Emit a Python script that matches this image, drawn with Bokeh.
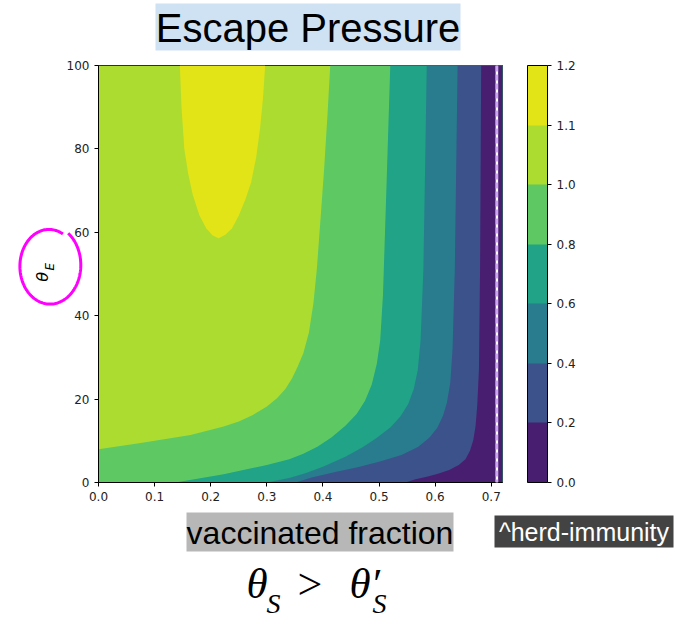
import numpy as np
from bokeh.plotting import figure
from bokeh.layouts import column, row
from bokeh.models import (ColorBar, LinearColorMapper, FixedTicker, PrintfTickFormatter,
                          Label, Span, Range1d)
from bokeh.embed import file_html
from bokeh.resources import INLINE

# ---------------- data ----------------
LEVEL_LABELS = ["0.0", "0.2", "0.4", "0.6", "0.8", "1.0", "1.1", "1.2"]
BAND_COLORS = ["#481f70", "#3b528b", "#287c8e", "#20a386", "#5ec962", "#addc30", "#e3e418"]
X_MAX = 0.72
Y_MAX = 100
HERD = 0.71
X_TICKS = [0.0, 0.1, 0.2, 0.3, 0.4, 0.5, 0.6, 0.7]
Y_TICKS = [0, 20, 40, 60, 80, 100]

# contour lines (vaccinated fraction, theta_E)
C11_X = [0.145, 0.148, 0.153, 0.160, 0.168, 0.180, 0.192, 0.203, 0.214, 0.226, 0.238, 0.250,
         0.262, 0.272, 0.281, 0.288, 0.293, 0.297]
C11_Y = [100, 90, 80, 74, 69, 64, 61, 59.3, 58.6, 59.4, 61, 64, 68, 72, 78, 85, 92, 100]

C10_X = [0.0, 0.075, 0.164, 0.223, 0.250, 0.275, 0.300, 0.318, 0.333, 0.345, 0.355, 0.365,
         0.375, 0.383, 0.389, 0.395, 0.402, 0.408, 0.413]
C10_Y = [8.0, 9.5, 11.4, 13.4, 14.6, 16.2, 18.2, 20.2, 22.4, 25, 27.8, 31, 36, 43, 51, 62, 75, 88, 100]

C08_X = [0.137, 0.223, 0.300, 0.340, 0.365, 0.390, 0.415, 0.440, 0.460, 0.475, 0.487, 0.496,
         0.502, 0.507, 0.513, 0.520]
C08_Y = [0, 2.0, 4.2, 5.6, 6.9, 8.6, 10.8, 13.6, 16.4, 19.6, 23.5, 28.5, 34, 45, 70, 100]

C06_X = [0.300, 0.340, 0.370, 0.400, 0.440, 0.470, 0.495, 0.520, 0.538, 0.552, 0.562, 0.569,
         0.574, 0.579, 0.582, 0.585]
C06_Y = [0, 1.1, 2.3, 3.8, 6.2, 8.4, 10.6, 13.2, 15.8, 18.8, 22.5, 27, 34, 51, 75, 100]

C04_X = [0.351, 0.380, 0.422, 0.460, 0.500, 0.540, 0.570, 0.590, 0.604, 0.614, 0.621, 0.627,
         0.631, 0.635, 0.640]
C04_Y = [0, 1.2, 2.5, 3.6, 5.0, 6.6, 8.6, 10.8, 13.2, 16.0, 19.2, 24, 32, 51, 100]

C02_X = [0.547, 0.565, 0.585, 0.605, 0.625, 0.642, 0.654, 0.662, 0.668, 0.672, 0.675, 0.678,
         0.680, 0.682]
C02_Y = [0, 0.8, 1.4, 2.1, 3.0, 4.2, 5.6, 7.6, 10.2, 13.6, 18.5, 27, 51, 100]

# ---------------- layout sizes (page pixels) ----------------
W = 680
TOP_H = 57
MID_H = 452
BOT_H = 112
LEFT_W = 98          # strip left of the plot frame
OVERLAP = 40         # main figure's (transparent) left border lies over the strip
MAIN_W = W - LEFT_W + OVERLAP
FRAME_RIGHT = 502


def deco(width, height, y0):
    f = figure(width=width, height=height, output_backend="svg", toolbar_location=None,
               x_range=Range1d(0, width), y_range=Range1d(y0 + height, y0),
               x_axis_location=None, y_axis_location=None, min_border=0)
    f.outline_line_color = None
    f.background_fill_color = "white"
    f.border_fill_color = "white"
    f.grid.visible = False
    return f


# ---------------- top: title ----------------
top = deco(W, TOP_H, 0)
top.quad(left=155, right=460, top=3, bottom=50, fill_color="#cfe2f3", line_color=None)
top.add_layout(Label(x=307.5, y=27, text="Escape Pressure", text_font="Liberation Sans",
                     text_font_size="40px", text_align="center", text_baseline="middle",
                     text_color="black"))

# ---------------- left strip: theta_E and magenta loop ----------------
left = deco(LEFT_W, MID_H, TOP_H)
left.add_layout(Label(x=41.5, y=286, angle=np.pi / 2, text="θ", text_font="DejaVu Sans",
                      text_font_size="16px", text_font_style="italic", text_align="center",
                      text_baseline="middle", text_color="black"))
left.add_layout(Label(x=49.5, y=275, angle=np.pi / 2, text="E", text_font="DejaVu Sans",
                      text_font_size="12px", text_font_style="italic", text_align="center",
                      text_baseline="middle", text_color="black"))
t = np.linspace(np.radians(62), np.radians(62 + 352), 160)
r = np.linspace(0.95, 1.06, t.size)
left.line(49 + 30 * r * np.cos(t), 274 - 41 * r * np.sin(t), line_color="#ff00ff", line_width=3)

# ---------------- main contour plot ----------------
p = figure(width=MAIN_W, height=MID_H, output_backend="svg", toolbar_location=None,
           x_range=Range1d(0, X_MAX), y_range=Range1d(0, Y_MAX),
           min_border_left=OVERLAP, min_border_right=(LEFT_W - OVERLAP) + MAIN_W - FRAME_RIGHT,
           min_border_top=8, min_border_bottom=27, margin=(0, 0, 0, -OVERLAP))
p.background_fill_color = "white"
p.border_fill_color = None
p.grid.visible = False
p.outline_line_color = "black"
p.outline_line_width = 1

p.quad(left=0, right=X_MAX, bottom=0, top=Y_MAX, fill_color=BAND_COLORS[5], line_color=None)
p.patch(C11_X, C11_Y, fill_color=BAND_COLORS[6], line_color=None)
for cx, cy, col in [(C10_X, C10_Y, BAND_COLORS[4]), (C08_X, C08_Y, BAND_COLORS[3]),
                    (C06_X, C06_Y, BAND_COLORS[2]), (C04_X, C04_Y, BAND_COLORS[1]),
                    (C02_X, C02_Y, BAND_COLORS[0])]:
    xs = list(cx) + [X_MAX, X_MAX, cx[0]]
    ys = list(cy) + [Y_MAX, 0, 0]
    p.patch(xs, ys, fill_color=col, line_color=None)

p.add_layout(Span(location=HERD, dimension="height", line_color="white", line_width=2.5))
p.add_layout(Span(location=HERD, dimension="height", line_color="#cfa6f2", line_width=2.5,
                  line_dash="6 3"))

for ax in (p.xaxis[0], p.yaxis[0]):
    ax.major_tick_in = 0
    ax.major_tick_out = 4
    ax.minor_tick_line_color = None
    ax.axis_line_color = "black"
    ax.major_tick_line_color = "black"
    ax.major_label_text_font = "DejaVu Sans"
    ax.major_label_text_font_size = "12px"
    ax.major_label_text_color = "#222222"
p.xaxis.ticker = FixedTicker(ticks=X_TICKS)
p.xaxis.formatter = PrintfTickFormatter(format="%.1f")
p.yaxis.ticker = FixedTicker(ticks=Y_TICKS)

mapper = LinearColorMapper(palette=BAND_COLORS, low=0, high=len(BAND_COLORS))
cb = ColorBar(color_mapper=mapper, ticker=FixedTicker(ticks=list(range(len(LEVEL_LABELS)))),
              major_label_overrides={i: s for i, s in enumerate(LEVEL_LABELS)},
              width=20, height=417, padding=0, margin=0, location=(25, 0),
              bar_line_color="black", major_tick_in=0, major_tick_out=4,
              major_tick_line_color="black", label_standoff=5,
              major_label_text_font="DejaVu Sans", major_label_text_font_size="12px",
              major_label_text_color="#222222", background_fill_color=None)
p.add_layout(cb, "right")

# ---------------- bottom: x label, herd label, formula ----------------
bot = deco(W, BOT_H, TOP_H + MID_H)
bot.quad(left=186, right=453, top=512, bottom=551, fill_color="#b7b7b7", line_color=None)
bot.add_layout(Label(x=319.5, y=532, text="vaccinated fraction", text_font="Liberation Sans",
                     text_font_size="32px", text_align="center", text_baseline="middle",
                     text_color="black"))
bot.quad(left=494, right=673, top=515, bottom=547, fill_color="#434343", line_color=None)
bot.add_layout(Label(x=583.5, y=531.5, text="^herd-immunity", text_font="Liberation Sans",
                     text_font_size="25px", text_align="center", text_baseline="middle",
                     text_color="white"))
for txt, X, Y, size, style in [("θ", 246, 583, "43px", "italic"), ("S", 266, 603, "28px", "italic"),
                                (">", 297, 584, "44px", "normal"), ("θ′", 349, 583, "43px", "italic"),
                                ("S", 372, 603, "28px", "italic")]:
    bot.add_layout(Label(x=X, y=Y, text=txt, text_font="Liberation Serif", text_font_size=size,
                         text_font_style=style, text_align="left", text_baseline="middle",
                         text_color="black"))

layout = column(top, row(left, p, spacing=0), bot, spacing=0)
open("out.html", "w").write(file_html(layout, INLINE))
